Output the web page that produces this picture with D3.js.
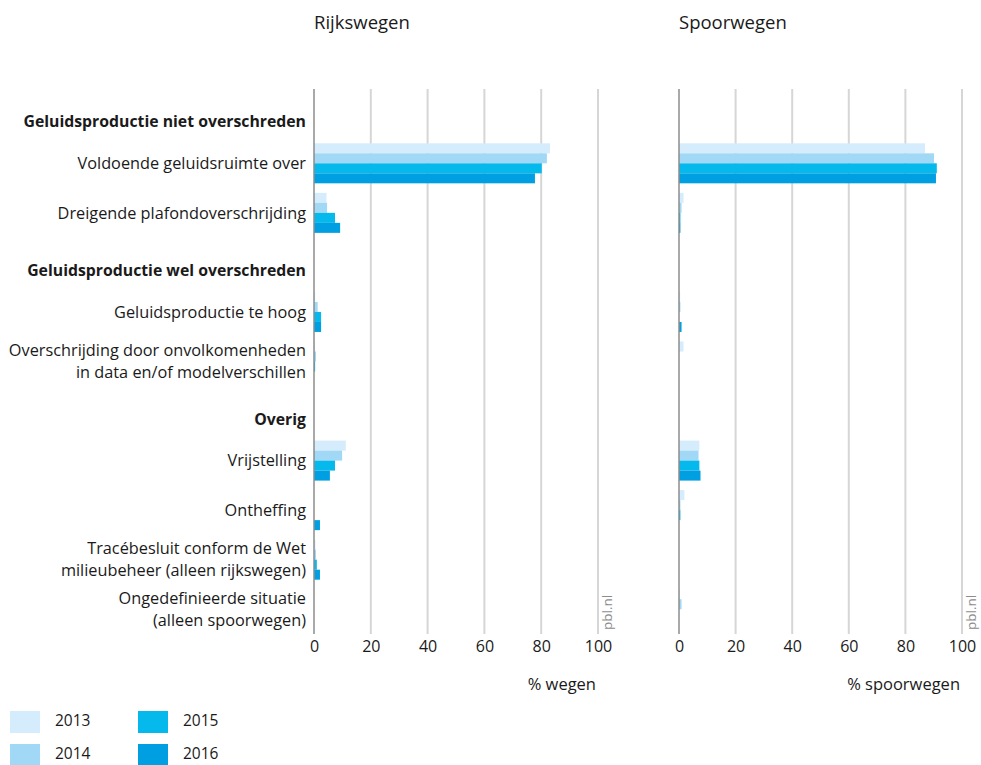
<!DOCTYPE html>
<html><head><meta charset="utf-8">
<script src="https://cdn.jsdelivr.net/npm/d3@7"></script>
<style>
body{margin:0;background:#fff;}
text{font-family:"Open Sans",sans-serif;fill:#1a1a1a;}
</style></head>
<body><svg id="c" width="981" height="765"></svg>
<script>
const categories = [
  "Geluidsproductie niet overschreden",
  "Voldoende geluidsruimte over",
  "Dreigende plafondoverschrijding",
  "Geluidsproductie wel overschreden",
  "Geluidsproductie te hoog",
  "Overschrijding door onvolkomenheden|in data en/of modelverschillen",
  "Overig",
  "Vrijstelling",
  "Ontheffing",
  "Tracébesluit conform de Wet|milieubeheer (alleen rijkswegen)",
  "Ongedefinieerde situatie|(alleen spoorwegen)"
];
const headers = [true,false,false,true,false,false,true,false,false,false,false];
const years = ["2013","2014","2015","2016"];
const colors = ["#d4ecfb","#a0d8f6","#06b9ec","#009fe1"];
const ticks = [0,20,40,60,80,100];

const rijks2013 = [0, 83.1, 4.4, 0, 0.4, 0.3, 0, 11.2, 0,   0.5, 0];
const rijks2014 = [0, 82.0, 4.6, 0, 1.3, 0.7, 0,  9.9, 0,   0.7, 0];
const rijks2015 = [0, 80.2, 7.4, 0, 2.5, 0.4, 0,  7.4, 0,   1.0, 0];
const rijks2016 = [0, 77.8, 9.2, 0, 2.5, 0,   0,  5.6, 2.1, 2.1, 0];

const spoor2013 = [0, 86.9, 1.6, 0, 0.4, 1.6, 0, 7.2, 1.9, 0, 0.3];
const spoor2014 = [0, 90.1, 0.9, 0, 0.5, 0,   0, 6.9, 0.5, 0, 0.9];
const spoor2015 = [0, 91.1, 0.5, 0, 0,   0,   0, 7.2, 0.5, 0, 0];
const spoor2016 = [0, 90.8, 0.5, 0, 0.9, 0,   0, 7.6, 0,   0, 0];

const panels = [
  {title:"Rijkswegen", axis:"% wegen", range:[314,598], series:[rijks2013,rijks2014,rijks2015,rijks2016]},
  {title:"Spoorwegen", axis:"% spoorwegen", range:[679,962], series:[spoor2013,spoor2014,spoor2015,spoor2016]}
];

const svg = d3.select("#c");
const y = d3.scaleBand().domain(d3.range(categories.length)).range([89,634]);
const yInner = d3.scaleBand().domain(years).range([0,40]);
const barOffset = (y.bandwidth()-40)/2;

// category labels
const lab = svg.append("g");
categories.forEach((c,i)=>{
  const lines = c.split("|");
  const cy = y(i)+y.bandwidth()/2 + (headers[i]?8:0);
  const lh = 22;
  const t = lab.append("text").attr("text-anchor","end")
    .attr("font-size",headers[i]?15.8:16.3).attr("font-weight",headers[i]?"bold":"normal");
  lines.forEach((l,k)=>{
    t.append("tspan").attr("x",306)
     .attr("y", cy + (k-(lines.length-1)/2)*lh).attr("dy","0.35em").text(l);
  });
});

panels.forEach(p=>{
  const x = d3.scaleLinear().domain([0,100]).range(p.range);
  const g = svg.append("g");
  // gridlines
  g.selectAll("line.grid").data(ticks.slice(1)).join("line")
    .attr("x1",d=>x(d)).attr("x2",d=>x(d)).attr("y1",89).attr("y2",634)
    .attr("stroke","#d6d6d6").attr("stroke-width",2);
  // bars
  p.series.forEach((s,si)=>{
    g.selectAll(null).data(s.map((v,i)=>({v,i})).filter(d=>d.v>0)).join("rect")
      .attr("x",x(0)).attr("width",d=>x(d.v)-x(0))
      .attr("y",d=>y(d.i)+barOffset+yInner(years[si]))
      .attr("height",yInner.bandwidth())
      .attr("fill",colors[si]);
  });
  // zero axis
  g.append("line").attr("x1",x(0)).attr("x2",x(0)).attr("y1",89).attr("y2",634)
    .attr("stroke","#8c8c8c").attr("stroke-width",1.5);
  // tick labels
  const ax = d3.axisBottom(x).tickValues(ticks).tickSize(0).tickPadding(0);
  const axg = g.append("g").attr("transform","translate(0,641)").call(ax);
  axg.select(".domain").remove();
  axg.selectAll("text").attr("font-size",16).attr("font-family","Open Sans, sans-serif").attr("fill","#1a1a1a");
  // titles
  g.append("text").attr("x",x(0)).attr("y",29).attr("font-size",18.5).text(p.title);
  g.append("text").attr("x",x(100)-2).attr("y",690).attr("text-anchor","end").attr("font-size",16.5).text(p.axis);
  g.append("text").attr("transform",`translate(${x(100)+14},630) rotate(-90)`)
    .attr("font-size",13.5).style("fill","#8c8c8c").text("pbl.nl");
});

// legend
const leg = svg.append("g");
years.forEach((yr,i)=>{
  const col = Math.floor(i/2), row = i%2;
  const lx = 10 + col*128, ly = 711 + row*33;
  leg.append("rect").attr("x",lx).attr("y",ly).attr("width",30).attr("height",22).attr("fill",colors[i]);
  leg.append("text").attr("x",lx+45).attr("y",ly+10).attr("dy","0.35em").attr("font-size",15.5).text(yr);
});
</script></body></html>
